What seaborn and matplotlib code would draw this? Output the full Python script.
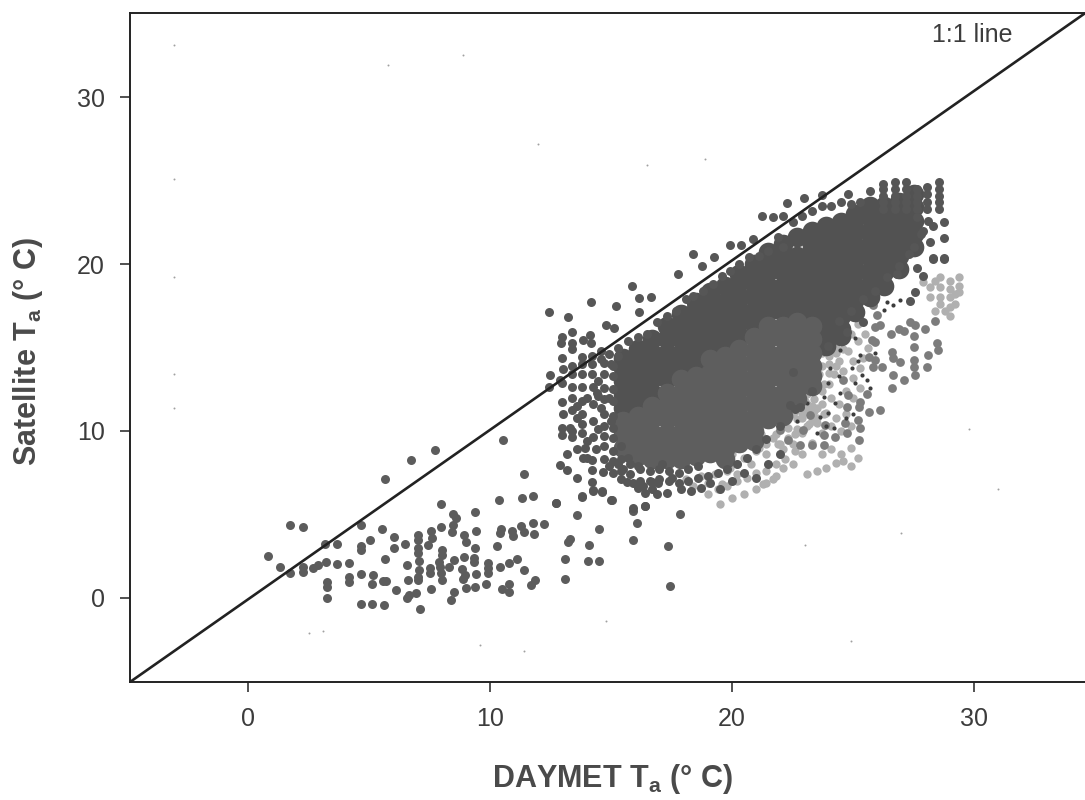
import matplotlib
matplotlib.use("Agg")
import matplotlib.pyplot as plt
import seaborn as sns

sns.set_theme(style="ticks")
plt.rcParams["font.family"] = ["Liberation Sans", "DejaVu Sans"]
plt.rcParams["mathtext.fontset"] = "custom"
plt.rcParams["mathtext.rm"] = "Liberation Sans"
plt.rcParams["mathtext.bf"] = "Liberation Sans:bold"

# --- sparse cool-temperature group
low_x = [0.81,1.31,1.74,2.25,1.75,2.25,2.25,2.70,2.91,3.24,3.18,3.68,3.68,4.17,3.25,3.25,3.25,4.17,4.17,4.67,4.67,4.67,5.04,4.67,5.18,5.11,5.56,5.70,5.67,5.55,5.66,6.72,7.71,6.03,6.03,6.49,6.57,6.60,6.13,4.67,5.12,5.62,7.12,6.56,6.63,6.94,7.56,7.04,7.04,7.55,7.62,7.97,7.97,8.48,8.58,8.48,8.44,7.42,7.04,7.01,7.07,7.07,7.04,7.01,7.52,7.52,8.00,8.03,7.89,7.93,7.98,8.00,8.32,8.49,8.93,9.00,9.38,9.42,9.38,8.94,9.34,9.34,8.83,8.97,8.90,9.42,8.49,8.39,9.01,9.38,9.82,9.93,9.93,9.93,10.40,10.79,11.10,11.39,10.48,10.80,10.80,11.69,11.86,10.29,10.41,10.46,10.90,10.96,11.28,11.39,11.78,12.22,11.83,10.39,11.32,11.78,10.55,11.42,12.71,13.58,13.24,13.32,13.10,13.11,14.09,14.04,14.52,14.52,13.80,14.26,14.64,15.03,15.92,16.40,16.06,15.90,17.34,17.84,17.44]
low_y = [2.53,1.84,4.37,4.23,1.48,1.88,1.58,1.78,1.98,2.18,3.21,3.23,2.06,2.08,0.98,0.68,0.00,1.28,0.94,4.39,3.13,2.87,3.45,1.42,1.38,0.86,1.00,1.02,2.32,4.11,7.13,8.24,8.84,3.63,2.97,3.25,2.00,1.06,0.48,-0.38,-0.36,-0.42,-0.68,-0.02,0.18,0.32,0.52,3.77,3.47,4.01,3.61,4.23,5.61,5.01,4.81,4.37,3.97,3.19,2.97,2.71,2.22,1.68,1.28,1.06,1.78,1.48,2.87,2.57,2.18,1.88,1.48,1.08,1.88,2.28,3.77,3.37,5.15,4.01,2.97,2.48,2.38,2.14,1.72,1.38,1.14,1.44,0.38,-0.12,0.60,0.68,0.82,2.08,1.80,1.52,1.88,2.12,2.32,1.68,0.52,0.84,0.34,0.78,1.08,3.11,3.87,4.13,4.01,3.71,4.33,3.93,4.49,4.45,3.83,5.87,5.97,6.13,9.46,7.41,5.71,4.99,3.35,3.55,2.36,1.12,3.17,2.22,2.22,4.13,6.09,6.45,6.39,5.87,5.21,5.51,4.49,3.47,3.13,5.01,0.74]

# --- dark fringe of the warm cloud
edge_x = [12.42,13.24,14.16,15.22,15.88,16.17,16.14,16.66,17.76,18.39,18.77,19.27,19.92,20.35,20.88,21.25,21.68,22.12,22.29,22.98,23.73,24.78,14.78,15.11,13.40,12.96,12.92,13.37,13.37,13.83,14.13,14.16,12.96,13.79,12.48,12.89,12.44,12.96,13.37,13.37,13.37,13.37,13.79,13.79,13.79,13.79,13.79,14.25,14.25,14.25,14.25,12.96,12.96,13.30,12.96,13.37,13.93,14.38,13.85,14.20,14.20,14.20,14.68,12.89,13.17,13.58,15.65,16.13,16.40,16.68,16.96,16.89,17.30,14.27,14.64,13.80,12.71,15.00,16.40,15.92,
          14.90,15.30,15.70,16.10,16.50,16.90,17.30,17.70,18.10,18.40,18.80,19.20,19.60,19.90,20.30,20.70,21.10,21.50,21.90,22.10,22.50,22.90,23.30,23.70,24.10,24.50,24.90,25.30,25.70,
          14.70,14.70,14.70,14.70,14.70,14.70,14.70,14.70,15.10,15.10,15.10,15.10,15.10,15.10,15.10,15.10,14.70,15.10,15.10,15.40,15.40,15.40,15.40,15.80,15.80,16.20,16.20,16.60,16.60,17.00,17.00,17.40,17.40,17.80,17.80,18.20,18.20,18.60,18.60,19.00,19.40,19.80,20.20,20.60,21.00,21.40,22.00,22.60,23.30,
          26.25,26.25,26.25,26.25,26.25,26.73,26.73,26.73,26.73,26.73,27.19,27.19,27.19,27.19,27.19,27.63,27.63,27.63,27.63,27.63,28.07,28.07,28.07,28.07,28.55,28.55,28.55,28.55,28.55,28.76,28.76,28.76,28.32,28.10,27.80,27.50,27.90,28.30,28.20,
          13.00,13.40,13.40,13.80,13.80,14.20,14.20,14.20,14.60,14.60,14.40,14.00,13.60,13.00,13.60,14.00,14.45,14.45,14.45,14.00,13.60,13.20,14.60,14.90,15.00,14.90,15.30,15.30,15.00,15.50,15.70,15.90,16.10,16.30,16.70,17.10,17.50,17.90,18.30,18.70,19.10,19.50,
          20.00,20.50,21.00,21.50,22.00,27.36,27.56,27.91,27.63,28.32,28.78,22.53,22.81,22.40,24.74,25.43,23.98,24.40,24.90,25.40,25.90,26.40,26.90,27.30,26.80]
edge_y = [17.15,16.85,17.70,17.49,18.66,17.94,17.15,18.02,19.42,20.60,19.90,20.42,21.12,21.16,21.50,22.87,22.83,22.89,23.67,23.93,24.13,24.19,16.35,16.19,15.93,15.65,15.25,15.25,14.89,15.45,15.75,15.25,14.35,14.45,13.35,13.05,12.65,12.90,12.65,12.00,11.26,10.00,12.65,11.80,11.00,10.40,9.86,12.65,11.60,10.60,9.66,11.72,10.16,10.16,9.76,9.66,8.96,8.90,8.36,8.26,7.66,6.97,7.56,7.96,7.66,7.17,6.97,6.57,6.31,6.97,6.91,6.21,6.27,6.43,6.37,6.07,5.71,5.87,5.51,5.37,
          14.60,15.00,15.40,15.60,15.80,16.50,16.90,17.20,17.90,18.10,18.40,18.80,19.30,19.60,20.00,20.40,20.50,20.80,21.60,21.00,22.50,22.90,23.20,23.50,23.50,23.70,23.60,23.70,24.40,
          9.10,9.70,10.30,11.00,11.90,12.60,13.40,14.10,8.80,9.60,10.20,10.90,11.80,12.50,13.30,13.90,8.30,8.20,7.50,9.10,8.30,7.60,7.10,7.40,8.00,7.00,7.70,7.00,7.60,7.10,7.70,7.00,7.60,6.90,7.50,7.00,7.70,7.20,7.90,7.30,7.50,7.70,8.00,8.40,8.90,9.50,10.30,11.30,12.40,
          23.30,23.70,24.10,24.50,24.80,23.30,23.70,24.10,24.50,24.90,23.30,23.70,24.10,24.50,24.90,22.80,23.30,23.70,24.10,24.50,23.30,23.70,24.20,24.60,23.30,23.70,24.10,24.50,24.90,22.53,21.54,20.34,20.34,22.60,21.80,21.00,22.00,22.30,21.30,
          13.70,13.90,13.40,14.00,13.40,14.50,14.00,13.40,14.80,14.30,12.30,12.00,11.50,11.00,10.80,9.40,13.00,12.10,10.10,8.40,8.90,8.60,11.40,7.90,10.60,12.00,8.00,14.50,14.00,7.70,8.40,6.90,7.90,6.70,6.50,8.00,7.20,6.50,6.40,6.60,6.90,6.50,
          7.00,7.50,7.20,8.00,8.60,17.80,18.34,19.28,19.74,20.30,20.30,13.55,11.46,11.56,15.95,16.55,15.09,16.60,17.20,17.90,18.40,19.20,19.90,20.60,19.40]

# --- solid interior of the cloud, column by column
core_x = [15.5,16.1,16.7,17.3,17.9,18.5,19.1,19.7,20.3,20.9,21.5,22.1,22.7,23.3,23.9,24.5,25.1,25.7,26.3,26.9,27.5]
core_mid_y = [
    [9.0,9.8,10.6],
    [8.5,9.3,10.1,10.9],
    [8.3,9.1,9.9,10.7,11.5],
    [8.3,9.1,9.9,10.7,11.5,12.3],
    [8.3,9.1,9.9,10.7,11.5,12.3,13.1],
    [8.5,9.3,10.1,10.9,11.7,12.5,13.3],
    [8.7,9.5,10.3,11.1,11.9,12.7,13.5,14.3],
    [8.3,8.9,9.7,10.5,11.3,12.1,12.9,13.7,14.5],
    [9.3,10.1,10.9,11.7,12.5,13.3,14.1,14.9],
    [9.4,10.0,10.8,11.6,12.4,13.2,14.0,14.8,15.6],
    [10.7,11.5,12.3,13.1,13.9,14.7,15.5,16.3],
    [10.9,11.5,12.3,13.1,13.9,14.7,15.5,16.3],
    [11.9,12.5,13.3,14.1,14.9,15.7,16.5],
    [12.7,13.3,13.9,14.7,15.5,16.3],
    [], [], [], [], [], [], [],
]
core_dark_y = [
    [11.4,12.2,13.0,13.8,14.4],
    [11.7,12.5,13.3,14.1,14.9],
    [12.3,13.1,13.9,14.7,15.5],
    [13.1,13.9,14.7,15.5,16.3],
    [13.9,14.7,15.5,16.3,17.0],
    [14.1,14.9,15.7,16.5,17.3,17.7],
    [15.1,15.9,16.7,17.5,18.3],
    [15.3,16.1,16.9,17.7,18.7],
    [15.7,16.5,17.3,18.1,18.9,19.4],
    [16.4,17.2,18.0,18.8,19.6,20.0],
    [17.1,17.9,18.7,19.5,20.3,20.7],
    [17.1,17.9,18.7,19.5,20.3,21.2],
    [17.3,18.1,18.9,19.7,20.5,21.6],
    [17.1,17.9,18.7,19.5,20.3,21.1,22.0],
    [15.1,15.9,16.7,17.5,18.3,19.1,19.9,20.7,21.5,22.3],
    [15.7,16.1,16.9,17.7,18.5,19.3,20.1,20.9,21.7,22.5],
    [17.1,17.9,18.7,19.5,20.3,21.1,21.9,22.7,23.0],
    [18.0,18.8,19.6,20.4,21.2,22.0,22.8,23.5],
    [18.7,19.5,20.3,21.1,21.9,22.7,23.5],
    [19.7,20.5,21.3,22.1,22.9,23.7],
    [21.0,21.8,22.6,23.4,24.2],
]

# --- mid-grey ringed points on the warm, low edge
ring_x = [25.64,25.92,25.84,26.18,26.60,26.67,26.94,26.64,26.60,27.10,27.54,27.54,27.54,27.56,28.10,28.04,28.46,28.53,26.57,26.92,27.12,27.36,27.56,27.52,27.97,28.39,25.64,26.10,25.56,24.80,24.60,25.30,25.26,24.74,24.67,25.22,25.29,25.25,24.74,24.25,23.78,23.84,23.22,22.95,22.33,22.00,22.81,23.30,23.78,25.91,26.12,25.77,25.92,25.98,25.84,26.32]
ring_y = [14.45,14.25,13.81,13.85,14.75,14.35,14.15,13.35,12.55,13.05,15.05,14.25,13.81,13.35,14.55,13.81,15.25,14.85,15.81,16.09,15.99,16.55,16.35,15.69,16.11,16.57,11.16,11.26,12.20,12.16,13.05,11.76,11.46,11.46,10.46,10.66,10.16,9.46,9.86,9.66,9.76,10.36,10.96,10.06,9.46,10.06,9.16,9.16,9.16,16.25,16.35,15.45,15.35,16.95,17.55,18.54]

# --- pale speckled points along the warm, low edge
pale_x = [28.2,28.2,28.6,28.6,28.6,28.6,29.0,29.0,29.0,29.0,29.0,29.4,29.4,29.4,27.9,28.4,28.8,29.2,29.2,28.4,
          25.60,25.40,25.20,25.00,24.80,24.60,24.40,24.20,24.00,23.80,23.60,23.40,23.20,23.00,22.80,22.60,22.40,22.20,22.00,21.80,21.60,21.40,21.20,21.00,20.80,20.60,20.40,20.20,20.00,19.80,
          25.30,25.00,24.70,24.40,24.10,23.80,23.50,23.20,22.90,22.60,22.30,22.00,21.70,21.40,21.10,20.80,20.50,20.20,19.90,19.60,19.30,19.00,18.70,18.40,18.10,
          24.90,24.50,24.10,23.70,23.30,22.90,22.50,22.10,21.70,21.30,24.90,24.50,24.10,23.70,23.30,22.90,22.50,22.10,24.70,24.30,23.90,23.50,23.10,22.70,24.30,23.90,23.50,23.10,24.90,25.20,24.60,
          24.00,24.30,24.60,24.90,23.70,24.00,24.30,24.60,23.40,23.70,24.00,24.30,23.10,23.40,23.70,24.00,22.80,23.10,23.40,23.70,22.50,22.80,23.10,23.40,25.00,25.30,25.50,25.20,
          21.80,21.40,21.00,20.60,20.20,19.80,19.40,19.00,21.00,20.50,20.00,19.50,22.60,22.20,21.80,21.40,21.90,22.30,22.70,23.10,23.50,22.50,22.90,23.30]
pale_y = [18.6,18.0,19.2,18.6,18.0,17.6,19.0,18.5,18.0,17.4,16.9,19.2,18.7,18.3,18.9,17.2,17.2,18.2,17.6,19.0,
          15.00,14.40,15.40,14.20,14.80,13.60,14.20,13.40,14.00,12.80,13.40,12.40,13.00,11.80,12.40,11.20,11.80,10.60,11.20,9.80,10.40,9.20,9.80,8.80,9.40,8.40,9.00,8.00,8.60,7.60,
          12.60,12.00,12.40,11.60,12.00,11.00,11.40,10.40,10.80,9.80,10.20,9.20,9.60,8.60,9.00,8.00,8.40,7.40,7.80,6.80,7.40,6.90,7.30,6.70,7.10,
          9.00,8.60,8.90,8.60,9.30,8.60,8.00,7.80,7.10,6.80,10.30,10.00,10.30,9.90,10.60,9.90,9.20,8.90,11.00,10.80,11.10,10.80,11.30,10.70,8.10,7.80,7.60,7.40,7.90,8.40,8.20,
          15.40,15.00,15.40,15.80,14.70,14.50,14.70,14.90,14.10,13.90,13.50,13.90,13.40,13.00,12.40,12.80,12.70,12.20,11.90,11.60,12.00,11.50,11.60,11.20,13.20,13.80,15.80,16.40,
          8.00,7.60,7.50,7.20,7.00,6.70,6.50,6.20,6.50,6.20,6.00,5.60,8.80,8.30,7.30,6.90,9.20,9.60,10.10,10.30,10.50,11.00,11.10,11.50]

# --- small dark flecks among the pale points
fleck_x = [25.29,25.08,25.91,25.20,24.97,25.36,25.56,23.98,24.46,24.05,24.26,23.98,23.64,23.36,24.46,23.78,26.26,26.40,26.67,26.94,24.70,24.20,23.50,25.00,25.70,22.70,23.10,23.90,24.40,25.10]
fleck_y = [14.55,15.55,14.65,14.20,13.75,13.35,13.05,12.85,12.25,13.75,11.66,11.06,10.86,12.85,14.85,12.06,17.25,17.75,17.55,17.85,10.80,10.20,9.90,11.00,12.60,10.60,11.70,10.30,13.30,12.90]

# --- scanner specks
speck_x = [-3.06,-3.06,-3.06,-3.06,-3.06,5.8,8.9,3.1,11.4,14.8,16.5,18.9,24.9,29.8,31.0,2.5,9.6,23.0,27.0,12.0]
speck_y = [33.1,25.1,19.2,13.4,11.4,31.9,32.5,-2.0,-3.2,-1.4,25.9,26.3,-2.6,10.1,6.5,-2.1,-2.8,3.2,3.9,27.2]

ticks = [0, 10, 20, 30]
line_x = [-4.88, 34.6]
line_y = [-5.03, 35.03]


def unroll(xs, cols):
    out_x, out_y = [], []
    for x, ys in zip(xs, cols):
        out_x.extend([x] * len(ys))
        out_y.extend(ys)
    return out_x, out_y


W, H = 1085, 800
fig = plt.figure(figsize=(W / 100, H / 100), dpi=100)
ax = fig.add_axes([130 / W, (H - 682) / H, 965 / W, 669 / H])

mx, my = unroll(core_x, core_mid_y)
dx, dy = unroll(core_x, core_dark_y)

sns.scatterplot(x=speck_x, y=speck_y, s=2, color="#a0a0a0", linewidth=0, ax=ax)
sns.scatterplot(x=pale_x, y=pale_y, s=36, color="#b0b0b0", linewidth=0, ax=ax)
sns.scatterplot(x=ring_x, y=ring_y, s=40, color="#7c7c7c", linewidth=0, ax=ax)
sns.scatterplot(x=fleck_x, y=fleck_y, s=9, color="#3c3c3c", linewidth=0, ax=ax)
sns.scatterplot(x=low_x, y=low_y, s=42, color="#5c5c5c", linewidth=0, ax=ax)
sns.scatterplot(x=dx, y=dy, s=200, color="#525252", linewidth=0, ax=ax)
sns.scatterplot(x=mx, y=my, s=200, color="#5e5e5e", linewidth=0, ax=ax)
sns.scatterplot(x=edge_x, y=edge_y, s=42, color="#565656", linewidth=0, ax=ax)
sns.lineplot(x=line_x, y=line_y, color="#222222", linewidth=1.9, ax=ax, errorbar=None)

ax.set_xlim(-4.88, 35)
ax.set_ylim(-5.03, 35.03)
ax.set_xticks(ticks)
ax.set_yticks(ticks)
ax.tick_params(axis="both", length=7, width=1.2, color="#333333", labelsize=18,
               labelcolor="#3c3c3c", pad=11)
for side in ax.spines.values():
    side.set_linewidth(1.4)
    side.set_color("#222222")

ax.text(1013, 765, "1:1 line", transform=None, ha="right", va="center",
        fontsize=18, color="#3c3c3c")

fig.text(612 / W, (H - 779) / H, r"DAYMET T$_{\mathbf{a}}$ (° C)", ha="center", va="center",
         fontsize=22, fontweight="bold", color="#4a4a4a")
fig.text(28 / W, (H - 351) / H, r"Satellite T$_{\mathbf{a}}$ (° C)", ha="center", va="center",
         rotation=90, fontsize=22, fontweight="bold", color="#4a4a4a")

fig.savefig("out.png", dpi=100, facecolor="white")
